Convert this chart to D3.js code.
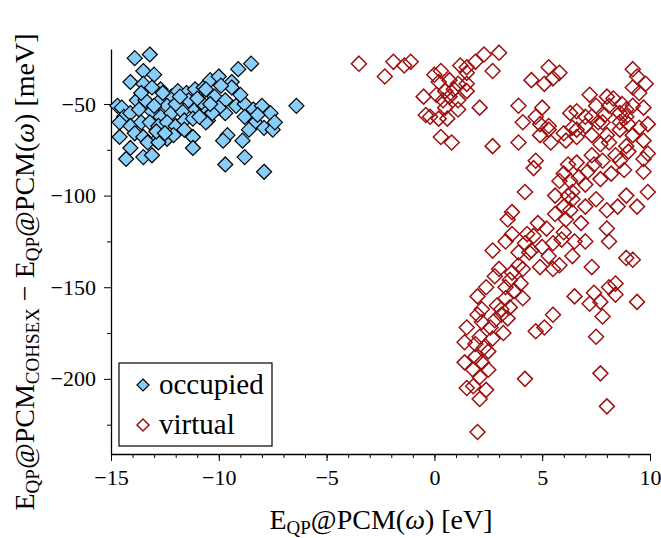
<!DOCTYPE html>
<html>
<head>
<meta charset="utf-8">
<script src="https://cdn.jsdelivr.net/npm/d3@7"></script>
<style>
  body { margin: 0; background: #fff; }
  text { font-family: "Liberation Serif", "DejaVu Serif", serif; fill: #000; }
</style>
</head>
<body>
<div id="chart"></div>
<script>
const svgWidth = 661;
const svgHeight = 538;
const occupiedColor = "#87cefa";
const virtualColor = "#9e1010";

// occupied orbitals: E_QP@PCM(w) [eV] and difference [meV]
const occupiedE = [-13.9, -13.2, -13.5, -13.0, -14.1, -13.5, -12.7, -13.1, -12.2, -11.9, -11.5, -11.1, -10.7, -10.4,
  -14.7, -14.5, -13.8, -13.4, -12.8, -12.4, -14.4, -14.1, -13.7, -13.1, -12.7, -12.2, -11.7, -11.4, -11.1, -10.7,
  -10.5, -14.6, -14.1, -13.6, -13.2, -12.8, -12.4, -12.0, -11.6, -11.2, -14.6, -13.9, -13.5, -12.9, -12.4, -12.1,
  -11.2, -14.1, -13.3, -12.8, -11.2, -14.3, -13.5, -13.1, -9.1, -8.5, -10.0, -9.4, -9.4, -10.6, -10.2, -9.7,
  -10.8, -9.2, -8.8, -8.4, -8.0, -7.6, -6.4, -9.7, -8.8, -8.3, -7.9, -7.5, -7.4, -10.6, -8.6, -9.6, -9.8, -8.9,
  -8.8, -9.7, -7.9, -12.0, -11.8, -10.0, -9.0, -10.3, -12.6, -13.6, -11.0, -9.9, -12.9, -11.6, -10.9, -8.2,
  -13.0, -12.5, -10.4];
const occupiedDelta = [-25, -23, -32, -34, -38, -39, -42, -41, -46, -43, -44, -42, -41, -37,
  -51, -52, -48, -48, -49, -51, -57, -55, -53, -54, -57, -55, -54, -48, -53, -51,
  -59, -60, -62, -60, -60, -62, -60, -62, -59, -58, -68, -66, -68, -70, -69, -67,
  -68, -74, -71, -71, -74, -80, -79, -78, -31, -28, -35, -38, -41, -42, -46, -48,
  -49, -51, -50, -53, -51, -55, -51, -55, -57, -60, -63, -64, -60, -60, -64, -67, -70, -70,
  -79, -83, -87, -50, -46, -52, -45, -55, -44, -44, -47, -40, -65, -64, -57, -56,
  -51, -66, -50];

// virtual orbitals
const virtualE = [-3.5, -1.9, -1.4, -1.1, -2.3, 0.0, 0.3, 1.2, 1.5, 1.9, 2.3, 3.0, 2.7, 1.5, 0.2, 0.7, 1.1, 1.5,
  -0.5, 0.1, 0.5, 0.9, 1.5, 0.4, 1.1, 0.7, 0.5, 1.1, 2.1, -0.4, -0.2, 0.2, 0.6, 0.3, 0.8, 2.7, 3.9, 3.9,
  5.3, 5.8, 4.5, 5.1, 5.5, 5.0, 4.7, 4.1, 4.9, 5.3, 4.9, 5.4, 4.7, 4.6, 4.2, 7.2, 6.6, 7.5, 8.0, 8.3, 8.1, 8.7,
  9.2, 9.4, 9.8, 9.2, 9.5, 9.2, 9.7, 9.9, 8.6, 8.9, 7.9, 7.6, 7.0, 6.4, 6.0, 6.6, 7.3, 8.0, 8.6, 9.0, 9.2, 9.7,
  8.1, 7.7, 7.3, 7.8, 8.6, 8.8, 9.7, 9.7, 9.9, 6.2, 6.7, 7.1, 7.7, 6.3, 6.4, 7.0, 7.5, 5.6, 6.0, 7.0, 8.0, 8.5,
  8.9, 9.4, 9.9,
  3.6, 3.4, 2.7, 3.6, 4.3, 4.6, 4.2, 3.9, 4.4, 4.9, 5.5, 5.8, 3.9, 4.1, 5.2, 5.6, 6.1, 6.3, 6.5, 6.4, 5.9, 5.5,
  7.3, 6.5, 7.4, 7.5, 5.5, 5.1, 4.7, 2.8, 3.6, 2.4, 2.0, 3.3, 3.7, 4.1, 3.3, 2.2, 3.1, 3.5, 3.4, 2.8, 2.2, 1.5,
  2.6, 3.2, 1.4, 2.1, 2.7, 1.9,
  8.0, 8.1, 8.9, 9.2, 8.1, 8.4, 8.4, 7.2, 7.7, 9.4, 7.8, 6.4, 6.0,
  3.1, 2.3, 1.4, 1.9, 2.2, 1.8, 2.5, 2.1, 1.5, 1.8, 2.4, 2.1, 2.0, 4.2, 7.7, 8.0,
  5.3, 6.1, 6.6, 8.9, 8.6, 7.8, 7.3, 8.9,
  2.0, 2.5, 2.9, 3.5, 3.0, 4.0, 4.5, 3.3, 5.0, 4.8, 5.3, 6.0, 6.8, 7.0, 6.2, 6.6, 5.8, 7.4, 8.2, 8.4, 9.0, 9.5,
  7.0, 6.3];
const virtualDelta = [-28, -27, -29, -27, -35, -34, -32, -29, -30, -27, -23, -22, -32, -33, -38, -37, -39, -39,
  -46, -45, -43, -42, -43, -48, -48, -46, -52, -53, -52, -56, -57, -58, -58, -68, -71, -73, -51, -71,
  -30, -33, -37, -39, -36, -52, -57, -60, -61, -62, -67, -71, -81, -85, -98, -45, -54, -51, -46, -47, -51, -50,
  -31, -35, -39, -41, -44, -51, -52, -61, -55, -57, -56, -60, -62, -63, -66, -68, -67, -67, -64, -61, -67, -70,
  -71, -72, -78, -81, -81, -86, -80, -87, -77, -83, -90, -87, -91, -92, -98, -94, -102, -100, -106, -106, -108, -106,
  -100, -106, -98,
  -109, -113, -130, -121, -121, -122, -126, -131, -131, -139, -140, -138, -138, -140, -118, -110, -113, -108, -125, -133, -124, -126,
  -139, -155, -153, -177, -165, -172, -174, -144, -142, -150, -155, -150, -152, -156, -156, -162, -162, -161, -167, -168, -169, -172,
  -172, -175, -180, -177, -178, -181,
  -118, -125, -134, -135, -150, -148, -154, -159, -158, -158, -166, -102, -88,
  -165, -183, -191, -188, -191, -195, -195, -199, -205, -204, -206, -211, -229, -200, -197, -215,
  -64, -70, -64, -53, -60, -60, -57, -73,
  -165, -185, -160, -146, -140, -148, -130, -125, -128, -115, -133, -120, -115, -125, -100, -82, -92, -83, -88, -78, -76, -63,
  -57, -55];

const xMajor = [-15, -10, -5, 0, 5, 10];
const yMajor = [-50, -100, -150, -200];

function diamond(r) {
  return `M0,${-r}L${r},0L0,${r}L${-r},0Z`;
}

const svg = d3.select("#chart").append("svg")
  .attr("width", svgWidth)
  .attr("height", svgHeight);

const x = d3.scaleLinear().domain([-15, 10]).range([111, 650]);
const y = d3.scaleLinear().domain([-241, -20]).range([454, 49]);

// x axis: minor ticks every 1 eV, labels on majors
svg.append("g")
  .attr("transform", `translate(0,${y(-241)})`)
  .call(d3.axisBottom(x).tickValues(d3.range(-15, 11, 1)).tickSize(4).tickSizeOuter(0).tickFormat(""))
  .call(g => g.select(".domain").attr("stroke-width", 1.3));
svg.append("g")
  .attr("transform", `translate(0,${y(-241)})`)
  .call(d3.axisBottom(x).tickValues(xMajor).tickSize(7).tickSizeOuter(0).tickPadding(8))
  .call(g => g.select(".domain").remove())
  .call(g => g.selectAll("text").style("font-size", "22px").attr("font-family", null));

// y axis
svg.append("g")
  .attr("transform", `translate(${x(-15)},0)`)
  .call(d3.axisLeft(y).tickValues([-75, -125, -175, -225]).tickSize(4).tickSizeOuter(0).tickFormat(""))
  .call(g => g.select(".domain").attr("stroke-width", 1.3));
svg.append("g")
  .attr("transform", `translate(${x(-15)},0)`)
  .call(d3.axisLeft(y).tickValues(yMajor).tickSize(7).tickSizeOuter(0).tickPadding(8))
  .call(g => g.select(".domain").remove())
  .call(g => g.selectAll("text").style("font-size", "22px").attr("font-family", null));

// virtual points
svg.append("g").selectAll("path")
  .data(d3.zip(virtualE, virtualDelta))
  .enter()
  .append("path")
  .attr("transform", d => `translate(${x(d[0])},${y(d[1])})`)
  .attr("d", diamond(7.5))
  .attr("fill", "none")
  .attr("stroke", virtualColor)
  .attr("stroke-width", 1.5);

// occupied points
svg.append("g").selectAll("path")
  .data(d3.zip(occupiedE, occupiedDelta))
  .enter()
  .append("path")
  .attr("transform", d => `translate(${x(d[0])},${y(d[1])})`)
  .attr("d", diamond(7.5))
  .attr("fill", occupiedColor)
  .attr("stroke", "#000")
  .attr("stroke-width", 1.2);

// Legend
const legend = svg.append("g");
legend.append("rect")
  .attr("x", 119).attr("y", 363)
  .attr("width", 153).attr("height", 83)
  .attr("fill", "#fff")
  .attr("stroke", "#000")
  .attr("stroke-width", 1.2);
legend.append("path")
  .attr("transform", "translate(143,385)")
  .attr("d", diamond(6))
  .attr("fill", occupiedColor)
  .attr("stroke", "#000")
  .attr("stroke-width", 1.2);
legend.append("path")
  .attr("transform", "translate(143,425)")
  .attr("d", diamond(6))
  .attr("fill", "none")
  .attr("stroke", virtualColor)
  .attr("stroke-width", 1.5);
legend.append("text").attr("x", 159).attr("y", 394).style("font-size", "29px").text("occupied");
legend.append("text").attr("x", 159).attr("y", 434).style("font-size", "29px").text("virtual");

// x label
const xl = svg.append("text")
  .attr("x", 381).attr("y", 529)
  .attr("text-anchor", "middle")
  .style("font-size", "28px");
xl.append("tspan").text("E");
xl.append("tspan").attr("dy", 5).style("font-size", "19px").text("QP");
xl.append("tspan").attr("dy", -5).text("@PCM(");
xl.append("tspan").style("font-style", "italic").text("ω");
xl.append("tspan").text(") [eV]");

// y label
const yl = svg.append("text")
  .attr("transform", "translate(34,272) rotate(-90)")
  .attr("text-anchor", "middle")
  .style("font-size", "28px");
yl.append("tspan").text("E");
yl.append("tspan").attr("dy", 5).style("font-size", "19px").text("QP");
yl.append("tspan").attr("dy", -5).text("@PCM");
yl.append("tspan").attr("dy", 5).style("font-size", "19px").text("COHSEX");
yl.append("tspan").attr("dy", -5).text(" − E");
yl.append("tspan").attr("dy", 5).style("font-size", "19px").text("QP");
yl.append("tspan").attr("dy", -5).text("@PCM(");
yl.append("tspan").style("font-style", "italic").text("ω");
yl.append("tspan").text(") [meV]");
</script>
</body>
</html>
